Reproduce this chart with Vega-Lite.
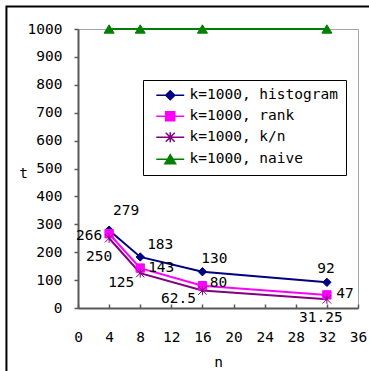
{
  "$schema": "https://vega.github.io/schema/vega-lite/v6.json",
  "width": 280,
  "height": 279,
  "autosize": {"type": "none"},
  "padding": {"left": 78, "top": 29, "right": 11, "bottom": 63},
  "background": "white",
  "config": {
    "view": {"stroke": "#a6a6a6", "strokeWidth": 1},
    "font": "DejaVu Sans Mono",
    "axis": {
      "grid": false,
      "domainColor": "#595959",
      "domainWidth": 2,
      "tickColor": "#595959",
      "tickWidth": 1.5,
      "labelFont": "DejaVu Sans Mono",
      "labelFontSize": 14.5,
      "labelColor": "black",
      "titleFont": "DejaVu Sans Mono",
      "titleFontSize": 14.5,
      "titleFontWeight": "normal",
      "titleColor": "black"
    }
  },
  "data": {
    "values": [
      {"series": "k=1000, histogram", "n": 4, "t": 279},
      {"series": "k=1000, histogram", "n": 8, "t": 183},
      {"series": "k=1000, histogram", "n": 16, "t": 130},
      {"series": "k=1000, histogram", "n": 32, "t": 92},
      {"series": "k=1000, rank", "n": 4, "t": 266},
      {"series": "k=1000, rank", "n": 8, "t": 143},
      {"series": "k=1000, rank", "n": 16, "t": 80},
      {"series": "k=1000, rank", "n": 32, "t": 47},
      {"series": "k=1000, k/n", "n": 4, "t": 250},
      {"series": "k=1000, k/n", "n": 8, "t": 125},
      {"series": "k=1000, k/n", "n": 16, "t": 62.5},
      {"series": "k=1000, k/n", "n": 32, "t": 31.25},
      {"series": "k=1000, naive", "n": 4, "t": 1000},
      {"series": "k=1000, naive", "n": 8, "t": 1000},
      {"series": "k=1000, naive", "n": 16, "t": 1000},
      {"series": "k=1000, naive", "n": 32, "t": 1000}
    ]
  },
  "layer": [
    {
      "encoding": {
        "x": {
          "field": "n", "type": "quantitative",
          "scale": {"domain": [0, 36], "nice": false, "zero": false},
          "axis": {
            "title": "n",
            "values": [0, 4, 8, 12, 16, 20, 24, 28, 32, 36],
            "format": "d",
            "tickSize": -4,
            "labelPadding": 26,
            "labelFlush": false,
            "labelOverlap": false,
            "titleX": 140,
            "titleY": 54,
            "titleAlign": "center",
            "titleBaseline": "middle"
          }
        },
        "y": {
          "field": "t", "type": "quantitative",
          "scale": {"domain": [0, 1000], "nice": false},
          "axis": {
            "title": "t",
            "values": [0, 100, 200, 300, 400, 500, 600, 700, 800, 900, 1000],
            "format": "d",
            "tickSize": 4,
            "labelPadding": 12,
            "labelFlush": false,
            "labelOverlap": false,
            "titleAngle": 0,
            "titleX": -55,
            "titleY": 144,
            "titleAlign": "center",
            "titleBaseline": "middle"
          }
        }
      },
      "layer": [
        {
          "mark": {"type": "line", "strokeWidth": 2},
          "encoding": {
            "color": {
              "field": "series", "type": "nominal",
              "scale": {
                "domain": ["k=1000, histogram", "k=1000, rank", "k=1000, k/n", "k=1000, naive"],
                "range": ["#000080", "#FF00FF", "#800080", "#008000"]
              },
              "legend": null
            }
          }
        },
        {
          "mark": {"type": "point", "filled": true, "opacity": 1, "strokeWidth": 1, "size": 70},
          "encoding": {
            "fill": {
              "field": "series", "type": "nominal",
              "scale": {
                "domain": ["k=1000, histogram", "k=1000, rank", "k=1000, k/n", "k=1000, naive"],
                "range": ["#000080", "#FF00FF", "#800080", "#008000"]
              },
              "legend": null
            },
            "stroke": {
              "field": "series", "type": "nominal",
              "scale": {
                "domain": ["k=1000, histogram", "k=1000, rank", "k=1000, k/n", "k=1000, naive"],
                "range": ["#000080", "#FF00FF", "#800080", "#008000"]
              },
              "legend": null
            },
            "shape": {
              "field": "series", "type": "nominal",
              "scale": {
                "domain": ["k=1000, histogram", "k=1000, rank", "k=1000, k/n", "k=1000, naive"],
                "range": [
                  "M0,-1L1,0L0,1L-1,0Z",
                  "M-1,-1H1V1H-1Z",
                  "M-1,-1L1,1M-1,1L1,-1M0,-1.1V1.1",
                  "M0,-1L1.2,1L-1.2,1Z"
                ]
              },
              "legend": null
            }
          }
        },
        {
          "transform": [{"filter": "false"}],
          "mark": {"type": "point", "filled": true, "opacity": 1, "strokeWidth": 1.5, "size": 81},
          "encoding": {
            "fill": {
              "field": "series", "type": "nominal",
              "scale": {
                "domain": ["k=1000, histogram", "k=1000, rank", "k=1000, k/n", "k=1000, naive"],
                "range": ["#000080", "#FF00FF", "#800080", "#008000"]
              },
              "legend": {
                "title": null, "orient": "none", "legendX": 65, "legendY": 51,
                "direction": "vertical", "strokeColor": "black", "fillColor": "white",
                "padding": 8, "symbolOffset": 12, "symbolSize": 81, "symbolStrokeWidth": 1.5,
                "symbolOpacity": 1,
                "labelFont": "DejaVu Sans Mono", "labelFontSize": 14.5, "labelColor": "black",
                "labelOffset": 12, "rowPadding": 5, "labelLimit": 300
              }
            },
            "stroke": {
              "field": "series", "type": "nominal",
              "scale": {
                "domain": ["k=1000, histogram", "k=1000, rank", "k=1000, k/n", "k=1000, naive"],
                "range": ["#000080", "#FF00FF", "#800080", "#008000"]
              },
              "legend": {
                "title": null, "orient": "none", "legendX": 65, "legendY": 51,
                "direction": "vertical", "strokeColor": "black", "fillColor": "white",
                "padding": 8, "symbolOffset": 12, "symbolSize": 81, "symbolStrokeWidth": 1.5,
                "symbolOpacity": 1,
                "labelFont": "DejaVu Sans Mono", "labelFontSize": 14.5, "labelColor": "black",
                "labelOffset": 12, "rowPadding": 5, "labelLimit": 300
              }
            },
            "shape": {
              "field": "series", "type": "nominal",
              "scale": {
                "domain": ["k=1000, histogram", "k=1000, rank", "k=1000, k/n", "k=1000, naive"],
                "range": [
                  "M-3.1,0H3.1M0,-1L1,0L0,1L-1,0Z",
                  "M-3.1,0H3.1M-1,-1H1V1H-1Z",
                  "M-3.1,0H3.1M-1,-1L1,1M-1,1L1,-1M0,-1.1V1.1",
                  "M-3.1,0H3.1M0,-1L1.2,1L-1.2,1Z"
                ]
              },
              "legend": {
                "title": null, "orient": "none", "legendX": 65, "legendY": 51,
                "direction": "vertical", "strokeColor": "black", "fillColor": "white",
                "padding": 8, "symbolOffset": 12, "symbolSize": 81, "symbolStrokeWidth": 1.5,
                "symbolOpacity": 1,
                "labelFont": "DejaVu Sans Mono", "labelFontSize": 14.5, "labelColor": "black",
                "labelOffset": 12, "rowPadding": 5, "labelLimit": 300
              }
            }
          }
        },
        {
          "transform": [{"filter": "datum.series == 'k=1000, histogram' && datum.n == 4"}],
          "mark": {"type": "text", "dx": 17, "dy": -19, "fontSize": 14.5, "color": "black"},
          "encoding": {"text": {"field": "t", "type": "quantitative"}}
        },
        {
          "transform": [{"filter": "datum.series == 'k=1000, histogram' && datum.n == 8"}],
          "mark": {"type": "text", "dx": 20, "dy": -12, "fontSize": 14.5, "color": "black"},
          "encoding": {"text": {"field": "t", "type": "quantitative"}}
        },
        {
          "transform": [{"filter": "datum.series == 'k=1000, histogram' && datum.n == 16"}],
          "mark": {"type": "text", "dx": 12, "dy": -13, "fontSize": 14.5, "color": "black"},
          "encoding": {"text": {"field": "t", "type": "quantitative"}}
        },
        {
          "transform": [{"filter": "datum.series == 'k=1000, histogram' && datum.n == 32"}],
          "mark": {"type": "text", "dx": -1, "dy": -13, "fontSize": 14.5, "color": "black"},
          "encoding": {"text": {"field": "t", "type": "quantitative"}}
        },
        {
          "transform": [{"filter": "datum.series == 'k=1000, rank' && datum.n == 4"}],
          "mark": {"type": "text", "dx": -20, "dy": 2, "fontSize": 14.5, "color": "black"},
          "encoding": {"text": {"field": "t", "type": "quantitative"}}
        },
        {
          "transform": [{"filter": "datum.series == 'k=1000, rank' && datum.n == 8"}],
          "mark": {"type": "text", "dx": 21, "dy": 0, "fontSize": 14.5, "color": "black"},
          "encoding": {"text": {"field": "t", "type": "quantitative"}}
        },
        {
          "transform": [{"filter": "datum.series == 'k=1000, rank' && datum.n == 16"}],
          "mark": {"type": "text", "dx": 16, "dy": -3, "fontSize": 14.5, "color": "black"},
          "encoding": {"text": {"field": "t", "type": "quantitative"}}
        },
        {
          "transform": [{"filter": "datum.series == 'k=1000, rank' && datum.n == 32"}],
          "mark": {"type": "text", "dx": 18, "dy": -1, "fontSize": 14.5, "color": "black"},
          "encoding": {"text": {"field": "t", "type": "quantitative"}}
        },
        {
          "transform": [{"filter": "datum.series == 'k=1000, k/n' && datum.n == 4"}],
          "mark": {"type": "text", "dx": -10, "dy": 19, "fontSize": 14.5, "color": "black"},
          "encoding": {"text": {"field": "t", "type": "quantitative"}}
        },
        {
          "transform": [{"filter": "datum.series == 'k=1000, k/n' && datum.n == 8"}],
          "mark": {"type": "text", "dx": -19, "dy": 10, "fontSize": 14.5, "color": "black"},
          "encoding": {"text": {"field": "t", "type": "quantitative"}}
        },
        {
          "transform": [{"filter": "datum.series == 'k=1000, k/n' && datum.n == 16"}],
          "mark": {"type": "text", "dx": -24, "dy": 8, "fontSize": 14.5, "color": "black"},
          "encoding": {"text": {"field": "t", "type": "quantitative"}}
        },
        {
          "transform": [{"filter": "datum.series == 'k=1000, k/n' && datum.n == 32"}],
          "mark": {"type": "text", "dx": -6, "dy": 19, "fontSize": 14.5, "color": "black"},
          "encoding": {"text": {"field": "t", "type": "quantitative"}}
        }
      ],
      "resolve": {
        "scale": {"fill": "independent", "stroke": "independent", "shape": "independent"}
      }
    },
    {
      "data": {"values": [{"edge": "frame"}]},
      "mark": {"type": "rect", "fillOpacity": 0, "stroke": "black", "strokeWidth": 2, "clip": false},
      "encoding": {
        "x": {
          "datum": -9.2, "type": "quantitative",
          "axis": {
            "title": "n",
            "values": [0, 4, 8, 12, 16, 20, 24, 28, 32, 36],
            "format": "d",
            "tickSize": -4,
            "labelPadding": 26,
            "labelFlush": false,
            "labelOverlap": false,
            "titleX": 140,
            "titleY": 54,
            "titleAlign": "center",
            "titleBaseline": "middle"
          }
        },
        "x2": {"datum": 40},
        "y": {
          "datum": 1081, "type": "quantitative",
          "axis": {
            "title": "t",
            "values": [0, 100, 200, 300, 400, 500, 600, 700, 800, 900, 1000],
            "format": "d",
            "tickSize": 4,
            "labelPadding": 12,
            "labelFlush": false,
            "labelOverlap": false,
            "titleAngle": 0,
            "titleX": -55,
            "titleY": 144,
            "titleAlign": "center",
            "titleBaseline": "middle"
          }
        },
        "y2": {"datum": -300}
      }
    }
  ],
  "resolve": {
    "scale": {"fill": "independent", "stroke": "independent", "shape": "independent"}
  }
}
